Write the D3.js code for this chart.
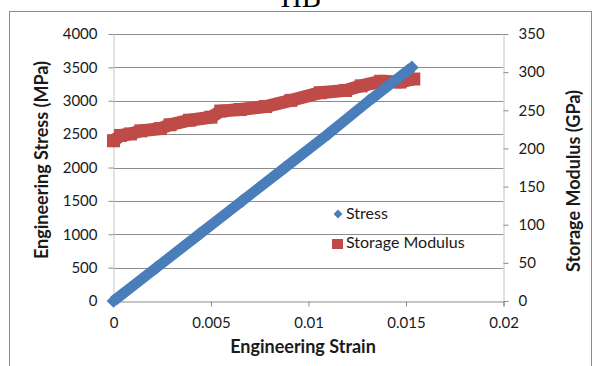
<!DOCTYPE html>
<html>
<head>
<meta charset="utf-8">
<script src="https://cdn.jsdelivr.net/npm/d3@7"></script>
<style>
  body { margin: 0; background: #fff; }
  svg { display: block; }
  text { font-family: Lato, "Open Sans", sans-serif; fill: #1a1a1a; }
</style>
</head>
<body>
<svg id="chart" width="592" height="366"></svg>
<script>
// stress series (MPa) vs engineering strain
const stressStrain = [0, 0.0022, 0.0044, 0.0066, 0.0088, 0.0110, 0.0131, 0.0153];
const stressValues = [0, 500, 1000, 1500, 2000, 2500, 3000, 3500];

// storage modulus series (GPa) vs engineering strain
const modulusStrain = [0, 0.00036, 0.00087, 0.0014, 0.0024, 0.0029, 0.0039, 0.005, 0.0055,
  0.0065, 0.0078, 0.0091, 0.0106, 0.0119, 0.0127, 0.0137, 0.0147, 0.0154];
const modulusValues = [210, 217, 219, 223, 226, 231, 237, 241, 249,
  251, 255, 263, 273, 276, 282, 288, 287, 291];

const xTicks = [0, 0.005, 0.01, 0.015, 0.02];
const yLeftTicks = [0, 500, 1000, 1500, 2000, 2500, 3000, 3500, 4000];
const yRightTicks = [0, 50, 100, 150, 200, 250, 300, 350];

const seriesNames = ['Stress', 'Storage Modulus'];
const blue = '#4a7ebb', red = '#be4b48';

const svg = d3.select('#chart');

// outer chart frame + clipped title above it
svg.append('rect')
  .attr('x', 9.5).attr('y', 11.5)
  .attr('width', 582).attr('height', 400)
  .attr('fill', 'none').attr('stroke', '#8c8c8c');

svg.append('text')
  .attr('x', 301).attr('y', 7)
  .attr('text-anchor', 'middle')
  .style('font-family', '"Liberation Serif", serif')
  .style('font-size', '29px')
  .style('fill', '#000')
  .text('HB');

const plotL = 113.5, plotR = 503.5, plotT = 34, plotB = 301;

const x = d3.scaleLinear().domain([0, 0.02]).range([plotL, plotR]);
const yL = d3.scaleLinear().domain([0, 4000]).range([plotB, plotT]);
const yR = d3.scaleLinear().domain([0, 350]).range([plotB, plotT]);

// horizontal gridlines
svg.append('g')
  .selectAll('line')
  .data(yLeftTicks.filter(d => d > 0))
  .join('line')
  .attr('x1', plotL).attr('x2', plotR)
  .attr('y1', d => Math.round(yL(d)) + 0.5)
  .attr('y2', d => Math.round(yL(d)) + 0.5)
  .attr('stroke', '#8c8c8c');

// axes
const xAxis = d3.axisBottom(x).tickValues(xTicks).tickFormat(d => String(+d.toFixed(3))).tickSizeOuter(0).tickSize(5).tickPadding(11);
const gx = svg.append('g').attr('transform', `translate(0,${plotB + 0.5})`).call(xAxis);

const gl = svg.append('g').attr('transform', `translate(${plotL},0)`)
  .call(d3.axisLeft(yL).tickValues(yLeftTicks).tickFormat(d3.format('d')).tickSize(5).tickSizeOuter(0).tickPadding(11));

const gr = svg.append('g').attr('transform', `translate(${plotR},0)`)
  .call(d3.axisRight(yR).tickValues(yRightTicks).tickFormat(d3.format('d')).tickSize(5).tickSizeOuter(0).tickPadding(10));

[gx, gl, gr].forEach(g => {
  g.selectAll('text').style('font-size', '15px').style('fill', '#1a1a1a').style('font-family', 'Lato, sans-serif');
  g.selectAll('line').attr('stroke', '#8c8c8c');
});
gl.select('.domain').attr('stroke', '#c4c4c4');
gr.select('.domain').attr('stroke', '#c4c4c4');
gx.select('.domain').attr('stroke', '#8c8c8c');

// storage modulus band (dense square markers)
const modulusPts = modulusStrain.map((s, i) => [s, modulusValues[i]]);
svg.append('path')
  .datum(modulusPts)
  .attr('d', d3.line().x(d => x(d[0])).y(d => yR(d[1])))
  .attr('fill', 'none').attr('stroke', red).attr('stroke-width', 13);
svg.append('g').selectAll('rect')
  .data(modulusPts)
  .join('rect')
  .attr('x', d => x(d[0]) - 6.5).attr('y', d => yR(d[1]) - 6.5)
  .attr('width', 13).attr('height', 13)
  .attr('fill', red);

// stress band (dense diamond markers)
const stressPts = stressStrain.map((s, i) => [s, stressValues[i]]);
svg.append('path')
  .datum(stressPts)
  .attr('d', d3.line().x(d => x(d[0])).y(d => yL(d[1])))
  .attr('fill', 'none').attr('stroke', blue).attr('stroke-width', 10.5);
const diamond = d3.symbol().type(d3.symbolDiamond2).size(120);
svg.append('g').selectAll('path')
  .data(stressPts)
  .join('path')
  .attr('transform', d => `translate(${x(d[0])},${yL(d[1])})`)
  .attr('d', diamond)
  .attr('fill', blue);

// axis titles
svg.append('text')
  .attr('x', 303).attr('y', 353)
  .attr('text-anchor', 'middle')
  .style('font-size', '18px').style('font-weight', 'bold')
  .text('Engineering Strain');

svg.append('text')
  .attr('transform', 'translate(48,160) rotate(-90)')
  .attr('text-anchor', 'middle')
  .style('font-size', '18px').style('font-weight', 'bold')
  .text('Engineering Stress (MPa)');

svg.append('text')
  .attr('transform', 'translate(580,181) rotate(-90)')
  .attr('text-anchor', 'middle')
  .style('font-size', '18px').style('font-weight', 'bold')
  .text('Storage Modulus (GPa)');

// legend
const legend = svg.append('g');
legend.append('path')
  .attr('transform', 'translate(338,214)')
  .attr('d', d3.symbol().type(d3.symbolDiamond2).size(50))
  .attr('fill', blue);
legend.append('rect')
  .attr('x', 332).attr('y', 239).attr('width', 11).attr('height', 10)
  .attr('fill', red);
legend.selectAll('text.lg')
  .data(seriesNames)
  .join('text')
  .attr('class', 'lg')
  .attr('x', 346)
  .attr('y', (d, i) => 219 + i * 29)
  .style('font-size', '16px')
  .text(d => d);
</script>
</body>
</html>
